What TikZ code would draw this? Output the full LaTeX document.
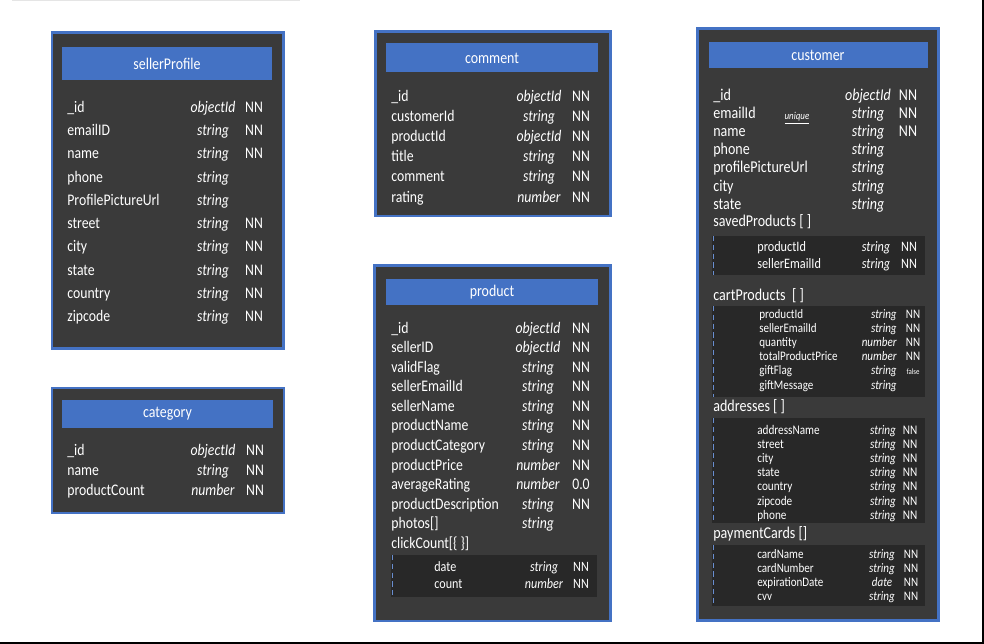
\documentclass[tikz,border=0pt]{standalone}
\usepackage{fontspec}
\setmainfont{Carlito}[FakeStretch=0.85]
\definecolor{tableblue}{HTML}{4472C4}
\definecolor{tablegray}{HTML}{3A3A3A}
\definecolor{subgray}{HTML}{282828}
\tikzset{
  tablebox/.style={draw=tableblue,line width=1.7pt,fill=tablegray},
  headbar/.style={fill=tableblue},
  subbox/.style={fill=subgray},
  subedge/.style={draw=tableblue!80!white,densely dashed,line width=0.4pt},
  tabletitle/.style={text=white,inner sep=0pt,font=\fontsize{9.3}{11}\selectfont},
  fieldname/.style={text=white,inner sep=0pt,anchor=mid west},
  fieldtype/.style={text=white,inner sep=0pt,anchor=mid,execute at begin node=\itshape},
  fieldtyper/.style={fieldtype,anchor=mid east},
  fieldkey/.style={text=white,inner sep=0pt,anchor=mid},
}
\begin{document}
\begin{tikzpicture}[x=0.02cm,y=-0.02cm]
  \useasboundingbox (0,0) rectangle (984,644);

  % Edges of the screenshot
  \draw[gray!20,line width=0.6pt] (12,0.5) -- (300,0.5);
  \draw[black,line width=1.2pt] (0,642.8) -- (984,642.8);
  \draw[black,line width=1.2pt] (983,0) -- (983,644);

  % sellerProfile
  \draw[tablebox] (52,33) rectangle (283.5,348.5);
  \fill[headbar] (62,47) rectangle (272,80);
  \node[tabletitle] (sp-title) at (167,64) {sellerProfile};
  \begin{scope}[font=\fontsize{9.2}{11}\selectfont]
    \foreach \fname/\ftype/\fkey [count=\i] in {\_id/objectId/NN, emailID/string/NN,
        name/string/NN, phone/string/{}, ProfilePictureUrl/string/{}, street/string/NN,
        city/string/NN, state/string/NN, country/string/NN, zipcode/string/NN}{
      \node[fieldname] (sp-name-\i) at (67,{108+(\i-1)*23.3}) {\fname};
      \node[fieldtype] (sp-type-\i) at (213,{108+(\i-1)*23.3}) {\ftype};
      \node[fieldkey] (sp-key-\i) at (254,{108+(\i-1)*23.3}) {\fkey};
    }
  \end{scope}

  % category
  \draw[tablebox] (52,388) rectangle (284,513);
  \fill[headbar] (62,400) rectangle (273,428);
  \node[tabletitle] (ca-title) at (167.5,414) {category};
  \begin{scope}[font=\fontsize{9.2}{11}\selectfont]
    \foreach \fname/\ftype/\fkey [count=\i] in {\_id/objectId/NN, name/string/NN,
        productCount/number/NN}{
      \node[fieldname] (ca-name-\i) at (67,{451+(\i-1)*20}) {\fname};
      \node[fieldtype] (ca-type-\i) at (213,{451+(\i-1)*20}) {\ftype};
      \node[fieldkey] (ca-key-\i) at (255,{451+(\i-1)*20}) {\fkey};
    }
  \end{scope}

  % comment
  \draw[tablebox] (375.5,31.5) rectangle (610,216);
  \fill[headbar] (386,43) rectangle (598,72);
  \node[tabletitle] (co-title) at (492,58) {comment};
  \begin{scope}[font=\fontsize{9.2}{11}\selectfont]
    \foreach \fname/\ftype/\fkey [count=\i] in {\_id/objectId/NN, customerId/string/NN,
        productId/objectId/NN, title/string/NN, comment/string/NN, rating/number/NN}{
      \node[fieldname] (co-name-\i) at (391,{97+(\i-1)*20.2}) {\fname};
      \node[fieldtype] (co-type-\i) at (539,{97+(\i-1)*20.2}) {\ftype};
      \node[fieldkey] (co-key-\i) at (581,{97+(\i-1)*20.2}) {\fkey};
    }
  \end{scope}

  % product
  \draw[tablebox] (374.5,265.5) rectangle (610,621);
  \fill[headbar] (386,279) rectangle (598,305);
  \node[tabletitle] (pr-title) at (492,292) {product};
  \begin{scope}[font=\fontsize{9.2}{11}\selectfont]
    \foreach \fname/\ftype/\fkey [count=\i] in {\_id/objectId/NN, sellerID/objectId/NN,
        validFlag/string/NN, sellerEmailId/string/NN, sellerName/string/NN,
        productName/string/NN, productCategory/string/NN, productPrice/number/NN,
        averageRating/number/0.0, productDescription/string/NN, photos[]/string/{},
        clickCount[\{~\}]/{}/{}}{
      \node[fieldname] (pr-name-\i) at (391,{329+(\i-1)*19.55}) {\fname};
      \node[fieldtype] (pr-type-\i) at (538,{329+(\i-1)*19.55}) {\ftype};
      \node[fieldkey] (pr-key-\i) at (581,{329+(\i-1)*19.55}) {\fkey};
    }
  \end{scope}
  % clickCount entries
  \fill[subbox] (391,555) rectangle (597,597);
  \draw[subedge] (392,555) -- (392,597);
  \begin{scope}[font=\fontsize{8.1}{10}\selectfont]
    \foreach \fname/\ftype/\fkey [count=\i] in {date/string/NN, count/number/NN}{
      \node[fieldname] (pc-name-\i) at (434,{567+(\i-1)*17}) {\fname};
      \node[fieldtype] (pc-type-\i) at (544,{567+(\i-1)*17}) {\ftype};
      \node[fieldkey] (pc-key-\i) at (581,{567+(\i-1)*17}) {\fkey};
    }
  \end{scope}

  % customer
  \draw[tablebox] (697.5,29) rectangle (938.5,620.5);
  \fill[headbar] (709,42) rectangle (928,68);
  \node[tabletitle] (cu-title) at (818,55) {customer};
  \begin{scope}[font=\fontsize{9.4}{11}\selectfont]
    \foreach \fname/\ftype/\fkey [count=\i] in {\_id/objectId/NN, emailId/string/NN,
        name/string/NN, phone/string/{}, profilePictureUrl/string/{}, city/string/{},
        state/string/{}}{
      \node[fieldname] (cu-name-\i) at (713,{96+(\i-1)*18.2}) {\fname};
      \node[fieldtype] (cu-type-\i) at (868,{96+(\i-1)*18.2}) {\ftype};
      \node[fieldkey] (cu-key-\i) at (908,{96+(\i-1)*18.2}) {\fkey};
    }
    \node[fieldname] (cu-saved) at (713,222) {savedProducts [ ]};
    \node[fieldname] (cu-cart) at (713,296) {cartProducts~~[ ]};
    \node[fieldname] (cu-addr) at (713,407) {addresses [ ]};
    \node[fieldname] (cu-pay) at (713,534) {paymentCards []};
  \end{scope}
  \node[fieldtype,font=\fontsize{6}{7}\selectfont] (cu-unique) at (797,115) {\underline{unique}};

  % savedProducts entries
  \fill[subbox] (712,236) rectangle (925,275);
  \draw[subedge] (713,236) -- (713,275);
  \begin{scope}[font=\fontsize{8.2}{10}\selectfont]
    \foreach \fname/\ftype/\fkey [count=\i] in {productId/string/NN, sellerEmailId/string/NN}{
      \node[fieldname] (sv-name-\i) at (757,{247+(\i-1)*17}) {\fname};
      \node[fieldtype] (sv-type-\i) at (876,{247+(\i-1)*17}) {\ftype};
      \node[fieldkey] (sv-key-\i) at (909,{247+(\i-1)*17}) {\fkey};
    }
  \end{scope}

  % cartProducts entries
  \fill[subbox] (712,306) rectangle (925,397);
  \draw[subedge] (713,306) -- (713,397);
  \begin{scope}[font=\fontsize{7.4}{9}\selectfont]
    \foreach \fname/\ftype/\fkey [count=\i] in {productId/string/NN, sellerEmailId/string/NN,
        quantity/number/NN, totalProductPrice/number/NN,
        giftFlag/string/{\fontsize{4.6}{5}\selectfont false}, giftMessage/string/{}}{
      \node[fieldname] (ct-name-\i) at (759,{314+(\i-1)*14.2}) {\fname};
      \node[fieldtyper] (ct-type-\i) at (897,{314+(\i-1)*14.2}) {\ftype};
      \node[fieldkey] (ct-key-\i) at (913,{314+(\i-1)*14.2}) {\fkey};
    }
  \end{scope}

  % addresses entries
  \fill[subbox] (712,418) rectangle (925,523);
  \draw[subedge] (713,418) -- (713,523);
  \begin{scope}[font=\fontsize{7.5}{9}\selectfont]
    \foreach \fname/\ftype/\fkey [count=\i] in {addressName/string/NN, street/string/NN,
        city/string/NN, state/string/NN, country/string/NN, zipcode/string/NN,
        phone/string/NN}{
      \node[fieldname] (ad-name-\i) at (757,{430+(\i-1)*14.17}) {\fname};
      \node[fieldtype] (ad-type-\i) at (883,{430+(\i-1)*14.17}) {\ftype};
      \node[fieldkey] (ad-key-\i) at (910,{430+(\i-1)*14.17}) {\fkey};
    }
  \end{scope}

  % paymentCards entries
  \fill[subbox] (712,545) rectangle (925,606);
  \draw[subedge] (713,545) -- (713,606);
  \begin{scope}[font=\fontsize{7.4}{9}\selectfont]
    \foreach \fname/\ftype/\fkey [count=\i] in {cardName/string/NN, cardNumber/string/NN,
        expirationDate/date/NN, cvv/string/NN}{
      \node[fieldname] (pa-name-\i) at (757,{554+(\i-1)*14}) {\fname};
      \node[fieldtype] (pa-type-\i) at (882,{554+(\i-1)*14}) {\ftype};
      \node[fieldkey] (pa-key-\i) at (911,{554+(\i-1)*14}) {\fkey};
    }
  \end{scope}
\end{tikzpicture}
\end{document}
